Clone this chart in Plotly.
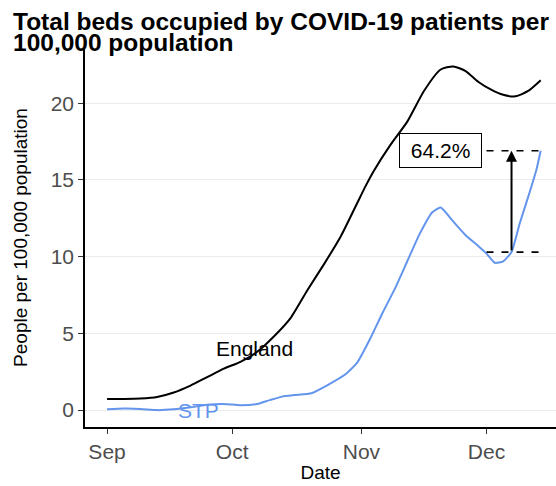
import plotly.graph_objects as go

# ---- data ----
england_dates = ["2020-09-01", "2020-09-05", "2020-09-09", "2020-09-13", "2020-09-17",
                 "2020-09-21", "2020-09-25", "2020-09-29", "2020-10-03", "2020-10-07",
                 "2020-10-11", "2020-10-15", "2020-10-19", "2020-10-23", "2020-10-27",
                 "2020-10-31", "2020-11-02", "2020-11-04", "2020-11-08", "2020-11-12", "2020-11-16",
                 "2020-11-20", "2020-11-23", "2020-11-26", "2020-11-29", "2020-12-02",
                 "2020-12-05", "2020-12-08", "2020-12-11", "2020-12-14"]
england_values = [0.72, 0.73, 0.76, 0.86, 1.15,
                  1.6, 2.15, 2.7, 3.15, 3.8,
                  4.8, 6.0, 7.8, 9.5, 11.3,
                  13.5, 14.6, 15.6, 17.3, 18.8, 20.8,
                  22.2, 22.4, 22.1, 21.4, 20.9,
                  20.55, 20.45, 20.8, 21.5]

stp_dates = ["2020-09-01", "2020-09-05", "2020-09-09", "2020-09-13", "2020-09-17",
             "2020-09-21", "2020-09-25", "2020-09-29", "2020-10-03", "2020-10-07",
             "2020-10-10", "2020-10-13", "2020-10-16", "2020-10-20", "2020-10-24",
             "2020-10-28", "2020-10-31", "2020-11-03", "2020-11-06", "2020-11-09",
             "2020-11-12", "2020-11-15", "2020-11-18", "2020-11-20", "2020-11-23",
             "2020-11-26", "2020-11-29", "2020-12-01", "2020-12-03", "2020-12-05",
             "2020-12-07", "2020-12-09", "2020-12-11", "2020-12-13", "2020-12-14"]
stp_values = [0.05, 0.1, 0.08, 0.0, 0.05,
              0.18, 0.35, 0.4, 0.32, 0.4,
              0.65, 0.88, 0.98, 1.1, 1.65,
              2.3, 3.1, 4.6, 6.3, 7.9,
              9.7, 11.5, 12.9, 13.2, 12.3,
              11.4, 10.7, 10.2, 9.6, 9.7,
              10.3, 12.2, 13.9, 15.7, 16.9]

tick_dates = ["2020-09-01", "2020-10-01", "2020-11-01", "2020-12-01"]
tick_labels = ["Sep", "Oct", "Nov", "Dec"]
y_ticks = [0, 5, 10, 15, 20]

compare_from_date = "2020-12-07"
compare_from_value = 10.3
compare_to_value = 16.9
compare_label = "64.2%"
label_date = "2020-11-20"
dash_start = "2020-12-01"
dash_end = "2020-12-14"

england_label_pos = ("2020-10-06 07:00", 4.0)
stp_label_pos = ("2020-09-23", 0.0)

title_line1 = "Total beds occupied by COVID-19 patients per"
title_line2 = "100,000 population"

BLUE = "#6495ED"
FONT = "Liberation Sans, Arial, sans-serif"

PLOT_L, PLOT_R, PLOT_T, PLOT_B = 85, 556, 48, 427
W, H = 556, 486


def paper_x(px):
    return (px - PLOT_L) / (PLOT_R - PLOT_L)


def paper_y(px):
    return (PLOT_B - px) / (PLOT_B - PLOT_T)


fig = go.Figure()
fig.add_trace(go.Scatter(x=england_dates, y=england_values, mode="lines",
                         line=dict(color="black", width=2, shape="spline", smoothing=0.6),
                         name="England", showlegend=False, hoverinfo="skip"))
fig.add_trace(go.Scatter(x=stp_dates, y=stp_values, mode="lines",
                         line=dict(color=BLUE, width=2, shape="spline", smoothing=0.5),
                         name="STP", showlegend=False, hoverinfo="skip"))

# dashed reference lines
for v in (compare_to_value, compare_from_value):
    fig.add_trace(go.Scatter(x=[dash_start, dash_end], y=[v, v], mode="lines",
                             line=dict(color="black", width=1.6, dash="7px,8px"),
                             showlegend=False, hoverinfo="skip"))

fig.add_annotation(x=compare_from_date, y=compare_to_value, ax=compare_from_date, ay=compare_from_value,
                   xref="x", yref="y", axref="x", ayref="y", text="", showarrow=True,
                   arrowhead=2, arrowsize=1.1, arrowwidth=2, arrowcolor="black")
fig.add_annotation(x=label_date, y=compare_to_value, xref="x", yref="y",
                   text="&nbsp;" + compare_label + "&nbsp;",
                   showarrow=False, font=dict(family=FONT, size=21, color="black"),
                   bgcolor="white", bordercolor="black", borderwidth=1, borderpad=5)
fig.add_annotation(x=england_label_pos[0], y=england_label_pos[1], xref="x", yref="y", text="England",
                   showarrow=False, font=dict(family=FONT, size=21, color="black"))
fig.add_annotation(x=stp_label_pos[0], y=stp_label_pos[1], xref="x", yref="y", text="STP",
                   showarrow=False, font=dict(family=FONT, size=21, color=BLUE))

# title as two lines with tight spacing
fig.add_annotation(x=paper_x(11), y=paper_y(22), xref="paper", yref="paper",
                   xanchor="left", yanchor="middle", showarrow=False,
                   text="<b>" + title_line1 + "</b>",
                   font=dict(family=FONT, size=24.5, color="black"))
fig.add_annotation(x=paper_x(11), y=paper_y(42), xref="paper", yref="paper",
                   xanchor="left", yanchor="middle", showarrow=False,
                   text="<b>" + title_line2 + "</b>",
                   font=dict(family=FONT, size=24.5, color="black"))

fig.update_layout(
    width=W, height=H,
    margin=dict(l=PLOT_L, r=W - PLOT_R, t=PLOT_T, b=H - PLOT_B, autoexpand=False),
    paper_bgcolor="white", plot_bgcolor="white",
    font=dict(family=FONT),
    xaxis=dict(
        type="date", automargin=False,
        range=["2020-08-26 17:00", "2020-12-17 16:00"],
        tickvals=tick_dates, ticktext=tick_labels,
        showgrid=False, zeroline=False,
        showline=True, linecolor="black", linewidth=1.6,
        ticks="outside", ticklen=5, tickwidth=1.4, tickcolor="#333333",
        tickfont=dict(family=FONT, size=21, color="#4d4d4d"),
        title=dict(text="Date", font=dict(family=FONT, size=19, color="black"), standoff=4),
    ),
    yaxis=dict(
        automargin=False,
        range=[-1.1, 23.6],
        tickvals=y_ticks,
        showgrid=True, gridcolor="#ebebeb", gridwidth=1.2, zeroline=False,
        showline=True, linecolor="black", linewidth=1.6,
        ticks="outside", ticklen=5, tickwidth=1.4, tickcolor="#333333",
        tickfont=dict(family=FONT, size=21, color="#4d4d4d"),
        title=dict(text="People per 100,000 population", font=dict(family=FONT, size=19, color="black"), standoff=18),
    ),
)

fig.write_html("out.html", config={"displayModeBar": False},
               post_script="document.body.style.margin='0';document.body.style.overflow='hidden';")
